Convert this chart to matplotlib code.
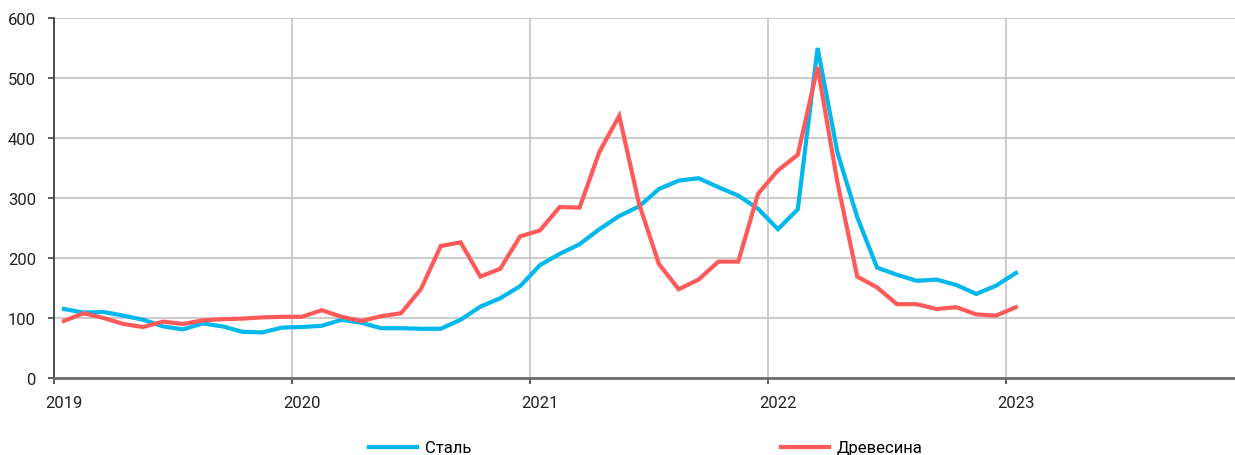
import numpy as np
import matplotlib
matplotlib.use('Agg')
import matplotlib.pyplot as plt

# Monthly index values, Jan 2019 - Jan 2023
steel = [115, 109, 110, 104, 97, 86, 81, 91, 86, 77, 76, 84,
         85, 87, 97, 92, 83, 83, 82, 82, 97, 119, 133, 153,
         188, 207, 223, 248, 270, 286, 315, 329, 333, 318, 304, 282,
         248, 281, 550, 376, 268, 184, 172, 162, 164, 155, 140, 154,
         175]
wood = [95, 108, 100, 90, 85, 94, 90, 96, 98, 99, 101, 102,
        102, 113, 102, 95, 103, 108, 148, 220, 226, 169, 182, 236,
        246, 285, 284, 377, 437, 290, 190, 148, 164, 194, 194, 307,
        346, 372, 518, 326, 169, 151, 123, 123, 115, 118, 106, 104,
        118]
years = [2019, 2020, 2021, 2022, 2023]
y_ticks = [0, 100, 200, 300, 400, 500, 600]

plt.rcParams['font.family'] = ['Roboto', 'DejaVu Sans']

# mid-month positions in fractional years
x = 2019 + (np.arange(len(steel)) + 0.5) / 12

fig = plt.figure(figsize=(12.35, 4.56), dpi=100)
ax = fig.add_axes([54 / 1235, 1 - 379 / 456, 1 - 54 / 1235, 360 / 456])

ax.plot(x, steel, color='#00B8EC', lw=3, label='Сталь', solid_joinstyle='miter')
ax.plot(x, wood, color='#FF5A5A', lw=3, label='Древесина', solid_joinstyle='miter')

ax.set_xlim(2019, 2019 + (1235 - 54) / 238)
ax.set_ylim(0, 600)
ax.set_yticks(y_ticks)
ax.set_xticks(years)
ax.set_xticklabels([])
ax.set_xticks([y + 0.5 / 12 for y in years], minor=True)
ax.set_xticklabels([str(y) for y in years], minor=True)

ax.tick_params(axis='x', which='major', length=4, width=1.2, color='#404040', direction='out')
ax.tick_params(axis='x', which='minor', length=0, pad=12, labelsize=12, labelcolor='#222222')
ax.tick_params(axis='y', length=4, width=1.2, color='#404040', pad=9, labelsize=12, labelcolor='#222222')

ax.grid(True, which='major', color='#c8c8c8', lw=1.3)
ax.set_axisbelow(True)
for s in ['top', 'right']:
    ax.spines[s].set_visible(False)
ax.spines['left'].set_color('#404040')
ax.spines['left'].set_linewidth(1.3)
ax.spines['bottom'].set_color('#6e6e6e')
ax.spines['bottom'].set_linewidth(2)

fig.legend(loc='center', bbox_to_anchor=(0.523, 0.0155), ncol=2, frameon=False,
           fontsize=12, handlelength=2.9, handletextpad=0.45, columnspacing=18.6)

fig.savefig('out.png', dpi=100)
